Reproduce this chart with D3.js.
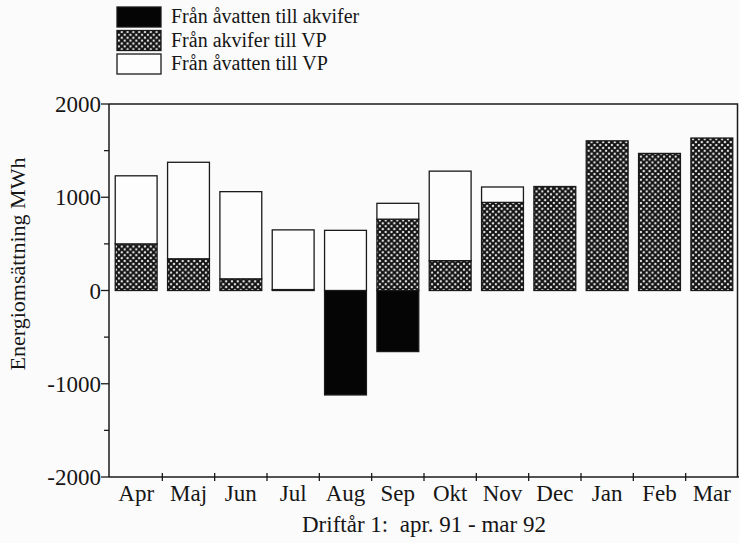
<!DOCTYPE html>
<html>
<head>
<meta charset="utf-8">
<script src="https://cdn.jsdelivr.net/npm/d3@7"></script>
<style>
  body{margin:0;background:#fbfbfb;}
  svg{display:block;}
  text{font-family:"Liberation Serif","Times New Roman",serif;fill:#161616;}
</style>
</head>
<body>
<div class="visHolder"></div>
<script>
// months of drift year 1 (apr 91 - mar 92)
const months=["Apr","Maj","Jun","Jul","Aug","Sep","Okt","Nov","Dec","Jan","Feb","Mar"];
// MWh per month
const toAquifer=[0,0,0,0,-1120,-655,0,0,0,0,0,0];          // Från åvatten till akvifer
const fromAquifer=[500,340,125,10,0,765,320,945,1115,1605,1470,1635]; // Från akvifer till VP
const directVP=[730,1035,935,640,645,170,960,165,0,0,0,0];  // Från åvatten till VP
const yTicks=[-2000,-1000,0,1000,2000];
const yMinor=[-1500,-500,500,1500];
const legendNames=["Från åvatten till akvifer","Från akvifer till VP","Från åvatten till VP"];

const w=739,h=543;
const pLeft=110,pRight=738,pTop=104,pBottom=477;
const ink="#1a1a1a";

const svg=d3.select(".visHolder")
.append("svg")
.attr("width",w)
.attr("height",h);

// cross hatch
const defs=svg.append("defs");
const s=5.8;
const pat=defs.append("pattern")
.attr("id","hatch")
.attr("patternUnits","userSpaceOnUse")
.attr("width",s).attr("height",s);
pat.append("rect").attr("width",s).attr("height",s).attr("fill","#fff");
pat.append("path")
.attr("d",`M${-1},${-1}L${s+1},${s+1}M${-1},${s+1}L${s+1},${-1}`)
.attr("stroke","#111").attr("stroke-width",2.1);

const xScale=d3.scaleBand().domain(months).range([pLeft,pRight]).paddingInner(0.2).paddingOuter(0.1);
const yScale=d3.scaleLinear().domain([-2000,2000]).range([pBottom,pTop]);

// stacked data
const rows=months.map((m,i)=>({m:m,neg:toAquifer[i],aq:fromAquifer[i],vp:directVP[i]}));

const bars=svg.append("g");
// black part, below zero
bars.selectAll(".neg")
.data(rows.filter(d=>d.neg<0))
.enter().append("rect")
.attr("x",d=>xScale(d.m))
.attr("width",xScale.bandwidth())
.attr("y",yScale(0))
.attr("height",d=>yScale(d.neg)-yScale(0))
.attr("fill","#050505")
.attr("stroke",ink).attr("stroke-width",1.3);
// hatched part
bars.selectAll(".aq")
.data(rows.filter(d=>d.aq>0))
.enter().append("rect")
.attr("x",d=>xScale(d.m))
.attr("width",xScale.bandwidth())
.attr("y",d=>yScale(d.aq))
.attr("height",d=>yScale(0)-yScale(d.aq))
.attr("fill","url(#hatch)")
.attr("stroke",ink).attr("stroke-width",1.3);
// white part on top
bars.selectAll(".vp")
.data(rows.filter(d=>d.vp>0))
.enter().append("rect")
.attr("x",d=>xScale(d.m))
.attr("width",xScale.bandwidth())
.attr("y",d=>yScale(d.aq+d.vp))
.attr("height",d=>yScale(d.aq)-yScale(d.aq+d.vp))
.attr("fill","#fdfdfd")
.attr("stroke",ink).attr("stroke-width",1.3);

// frame: top and right
svg.append("path")
.attr("d",`M${pLeft-1},${pTop}H${pRight-0.5}V${pBottom}`)
.attr("fill","none").attr("stroke",ink).attr("stroke-width",1.5);

// y axis
const yAxis=svg.append("g").attr("transform","translate("+(pLeft-1)+",0)");
yAxis.append("line").attr("y1",pTop).attr("y2",pBottom).attr("stroke",ink).attr("stroke-width",1.5);
yAxis.selectAll(".major").data(yTicks).enter().append("line")
.attr("x1",-8).attr("x2",0)
.attr("y1",d=>yScale(d)).attr("y2",d=>yScale(d))
.attr("stroke",ink).attr("stroke-width",1.3);
yAxis.selectAll(".minor").data(yMinor).enter().append("line")
.attr("x1",-5).attr("x2",0)
.attr("y1",d=>yScale(d)).attr("y2",d=>yScale(d))
.attr("stroke",ink).attr("stroke-width",1.3);
yAxis.selectAll("text").data(yTicks).enter().append("text")
.attr("x",-8)
.attr("y",d=>yScale(d))
.attr("dy","0.35em")
.attr("text-anchor","end")
.style("font-size","23px")
.text(d=>d);

// x axis with ticks between the months
const xAxis=svg.append("g");
xAxis.append("line").attr("x1",pLeft-1).attr("x2",w).attr("y1",pBottom).attr("y2",pBottom)
.attr("stroke",ink).attr("stroke-width",1.5);
const step=xScale.step();
xAxis.selectAll(".tick").data(months.slice(1)).enter().append("line")
.attr("x1",d=>xScale(d)-step*xScale.paddingInner()/2)
.attr("x2",d=>xScale(d)-step*xScale.paddingInner()/2)
.attr("y1",pBottom-4).attr("y2",pBottom+4)
.attr("stroke",ink).attr("stroke-width",1.3);
xAxis.selectAll("text").data(months).enter().append("text")
.attr("x",d=>xScale(d)+xScale.bandwidth()/2)
.attr("y",501)
.attr("text-anchor","middle")
.style("font-size","23px")
.text(d=>d);

// axis titles
svg.append("text")
.attr("x",424).attr("y",532)
.attr("text-anchor","middle")
.style("font-size","23px")
.attr("xml:space","preserve")
.text("Driftår 1:  apr. 91 - mar 92");

svg.append("text")
.attr("transform","translate(25,264) rotate(-90)")
.attr("text-anchor","middle")
.style("font-size","22px")
.text("Energiomsättning MWh");

// legend
const fills=["#050505","url(#hatch)","#fdfdfd"];
const lg=svg.append("g");
legendNames.forEach((name,i)=>{
  const y0=7+i*23.5;
  lg.append("rect")
  .attr("x",117).attr("y",y0)
  .attr("width",44).attr("height",20)
  .attr("fill",fills[i])
  .attr("stroke",ink).attr("stroke-width",1.3);
  lg.append("text")
  .attr("x",171).attr("y",y0+16)
  .style("font-size","20px")
  .text(name);
});
</script>
</body>
</html>
